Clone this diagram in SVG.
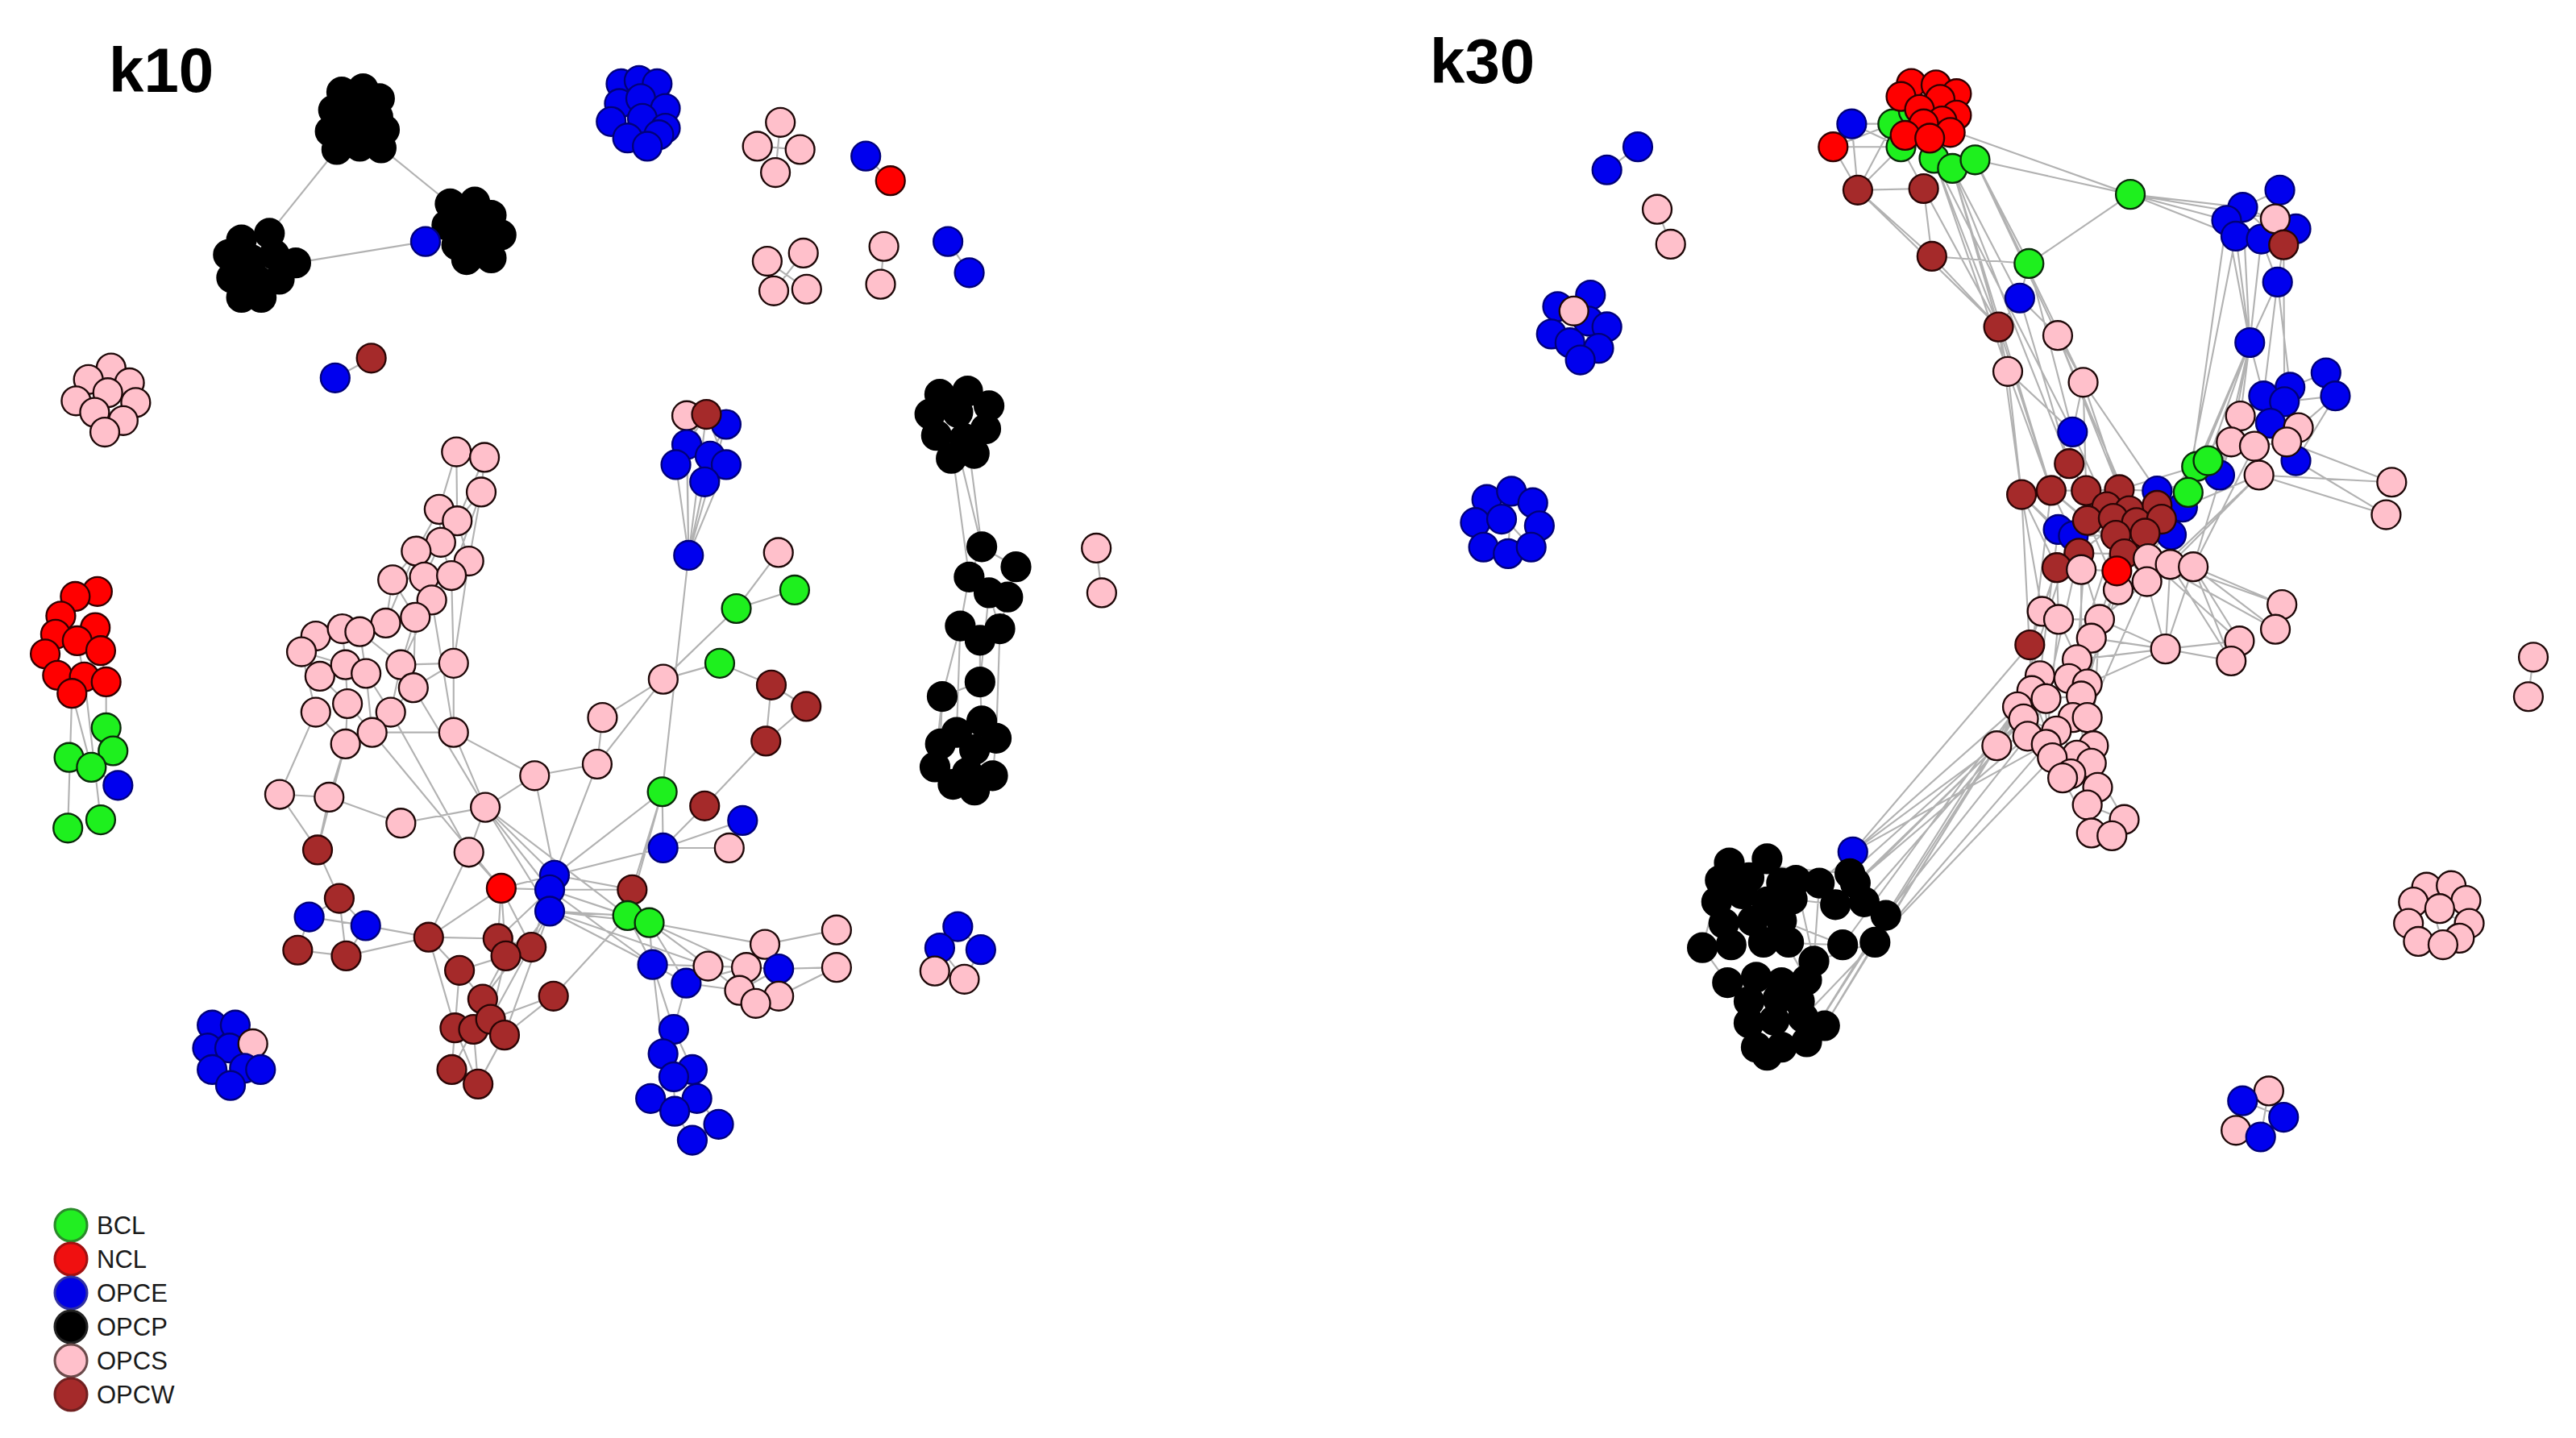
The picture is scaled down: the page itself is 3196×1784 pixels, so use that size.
<svg xmlns="http://www.w3.org/2000/svg" width="3196" height="1784" viewBox="0 0 3196 1784">
<style>
.e{stroke:#b2b2b2;stroke-width:1.05;fill:none}
.n circle{stroke-width:1.15}
.g{fill:#1ef01e;stroke:#0a2a0a}
.r{fill:#ff0000;stroke:#300000}
.b{fill:#0000ee;stroke:#00007a}
.k{fill:#000;stroke:#000}
.p{fill:#ffc0cb;stroke:#1e0808}
.w{fill:#a52a2a;stroke:#2a0505}
.t{font-family:"Liberation Sans",Arial,sans-serif;font-weight:bold;fill:#000}
.lg{font-family:"Liberation Sans",Arial,sans-serif;font-size:31px;fill:#1a1a1a}
.lc circle{stroke-width:3}
</style>
<rect width="3196" height="1784" fill="#fff"/>
<text class="t" x="135" y="114" font-size="78">k10</text>
<text class="t" x="1774" y="103" font-size="78">k30</text>
<g transform="scale(2.0383)">
<g id="connectors">
<path class="e" d="M205,91L164,142M232,90L274,124M180,160L259,147M259,147L272,137M204,230L226,218M527,95L542,110M475,74.5L472,105M461,89L487,91M467,159L491,176M489,154L471,177M538,150L536,173M577,147L590,166M667.3,333.6L670.6,360.8M583,564L572,577M583,564L597,578M572,577L569,591M597,578L587,596M572,577L587,596M53.8,231L82.6,245M67.6,224L63.8,263M46.3,244L75,256
M59.3,360L45.8,363M45.8,363L37,375M37,375L47,390M58,382L47,390M58,382L61.3,396M33.8,386L27.5,398M27.5,398L35,411M47,390L51.3,412M35,411L43.8,422M51.3,412L64.6,415M61.3,396L64.6,415M43.8,422L51.3,412M43.8,422L41.3,504M51.3,412L61.3,499M64.6,415L64.6,443M43.8,422L55.6,467M64.6,443L68.8,457M42,461L55.6,467M55.6,467L71.8,478M68.8,457L55.6,467
M584.5,279L597.6,333M590,275L597.6,333M580,278L589.9,351M597.6,333L589.9,351M597.6,333L618.4,345M589.9,351L602,361M602,361L613.4,363M618.4,345L613.4,363M589.9,351L584.5,381M602,361L608.6,383M613.4,363L608.6,383M584.5,381L596.5,390M608.6,383L596.5,390M584.5,381L573.5,424M596.5,390L596.5,415M608.6,383L606.4,449M596.5,415L573.5,424M573.5,424L572.4,453M596.5,415L597.6,439M584.5,381L582.3,446M573.5,424L569.1,467M606.4,449L604.2,472M602,361L596.5,415
M277.8,275L294.9,278.4M277.8,275L267.3,310M277.8,275L278.3,317M294.9,278.4L292.9,299.5M294.9,278.4L278.3,317M292.9,299.5L278.3,317M292.9,299.5L285.4,341.5M292.9,299.5L274.8,350.3M267.3,310L278.3,317M267.3,310L268.3,330.1M267.3,310L253.3,335.4M278.3,317L268.3,330.1M278.3,317L285.4,341.5M268.3,330.1L253.3,335.4M268.3,330.1L258.3,351.2M268.3,330.1L274.8,350.3M253.3,335.4L239,352.9M253.3,335.4L258.3,351.2M285.4,341.5L274.8,350.3M285.4,341.5L276.1,403.7M239,352.9L258.3,351.2M239,352.9L234.8,379.2M239,352.9L252.8,375.7M258.3,351.2L274.8,350.3M258.3,351.2L262.8,365.2M274.8,350.3L262.8,365.2M262.8,365.2L252.8,375.7M262.8,365.2L244,404.6M234.8,379.2L252.8,375.7M234.8,379.2L219,384.5M234.8,379.2L208.3,382.7M252.8,375.7L244,404.6M252.8,375.7L251.6,418.6M192.2,387.1L208.3,382.7M192.2,387.1L183.5,396.7M208.3,382.7L219,384.5M208.3,382.7L210.3,404.6M219,384.5L222.8,409.9M183.5,396.7L194.7,411.6M183.5,396.7L210.3,404.6M183.5,396.7L192.2,433.5M244,404.6L276.1,403.7M244,404.6L251.6,418.6M244,404.6L237.8,433.5M276.1,403.7L251.6,418.6M276.1,403.7L276.1,445.8M194.7,411.6L210.3,404.6M194.7,411.6L211.5,428.3M210.3,404.6L222.8,409.9M210.3,404.6L211.5,428.3M222.8,409.9L237.8,433.5M222.8,409.9L226.5,445.8M251.6,418.6L237.8,433.5M211.5,428.3L226.5,445.8M211.5,428.3L210.3,452.8M192.2,433.5L210.3,452.8M192.2,433.5L170.2,483.5M237.8,433.5L226.5,445.8M226.5,445.8L276.1,445.8M226.5,445.8L210.3,452.8M210.3,452.8L200.3,485.2M276.1,445.8L295.4,491.4M276.1,445.8L325.4,472.1M274.8,350.3L276.1,403.7M253.3,335.4L234.8,379.2M219,384.5L244,404.6M251.6,418.6L295.4,491.4M237.8,433.5L285.4,518.7M262.8,365.2L276.1,445.8M226.5,445.8L305.1,540.6
M170.2,483.5L200.3,485.2M170.2,483.5L193.3,517.3M200.3,485.2L193.3,517.3M200.3,485.2L244,501M244,501L295.4,491.4M295.4,491.4L325.4,472.1M295.4,491.4L285.4,518.7M325.4,472.1L363.5,465.1M363.5,465.1L366.7,436.7M366.7,436.7L403.7,413.4M363.5,465.1L403.7,413.4M325.4,472.1L337.5,532.7M363.5,465.1L337.5,532.7M295.4,491.4L337.5,532.7M295.4,491.4L334.6,541.5M295.4,491.4L334.6,554.6M295.4,491.4L382,557.3M285.4,518.7L260.9,570.4M285.4,518.7L305.1,540.6M210.3,452.8L193.3,517.3M193.3,517.3L206.5,546.8M206.5,546.8L188.2,558.1M206.5,546.8L222.6,563.4M206.5,546.8L210.7,581.8M188.2,558.1L222.6,563.4M188.2,558.1L181.2,578.3M181.2,578.3L210.7,581.8M222.6,563.4L210.7,581.8M210.7,581.8L260.9,570.4M222.6,563.4L260.9,570.4M260.9,570.4L305.1,540.6M260.9,570.4L279.7,590.6M260.9,570.4L303.1,571.3M260.9,570.4L276.9,625.6M305.1,540.6L303.1,571.3M305.1,540.6L323.4,576.5M305.1,540.6L337.5,532.7M305.1,540.6L334.6,541.5M305.1,540.6L307.9,581.8M303.1,571.3L323.4,576.5M303.1,571.3L307.9,581.8M323.4,576.5L307.9,581.8M307.9,581.8L279.7,590.6M307.9,581.8L293.8,608.1M307.9,581.8L298.6,620.4M279.7,590.6L276.9,625.6M279.7,590.6L293.8,608.1M293.8,608.1L288.2,626.5M293.8,608.1L298.6,620.4M293.8,608.1L307.1,630M276.9,625.6L288.2,626.5M276.9,625.6L275,651M288.2,626.5L291,659.8M298.6,620.4L307.1,630M307.1,630L291,659.8M275,651L291,659.8M276.9,625.6L291,659.8M288.2,626.5L275,651M336.9,606.3L307.1,630M336.9,606.3L298.6,620.4M336.9,606.3L382,557.3M323.4,576.5L334.6,541.5M303.1,571.3L334.6,541.5M293.8,608.1L334.6,554.6M298.6,620.4L334.6,554.6M307.1,630L334.6,554.6
M337.5,532.7L334.6,541.5M334.6,541.5L334.6,554.6M337.5,532.7L403.6,516.1M337.5,532.7L403.1,481.9M334.6,541.5L382,557.3M334.6,541.5L395.2,561.6M334.6,554.6L382,557.3M334.6,554.6L395.2,561.6M337.5,532.7L384.8,541.5M334.6,541.5L384.8,541.5M334.6,554.6L397.2,587.1M334.6,541.5L397.2,587.1M334.6,554.6L431,588M384.8,541.5L382,557.3M384.8,541.5L403.1,481.9M403.1,481.9L382,557.3M403.1,481.9L403.6,516.1M382,557.3L395.2,561.6M395.2,561.6L397.2,587.1M395.2,561.6L417.7,598.4M395.2,561.6L431,588M395.2,561.6L465.6,574.8M395.2,561.6L454.3,588.8M382,557.3L397.2,587.1M403.6,516.1L428.9,490.5M403.6,516.1L452,499.4M403.6,516.1L443.9,516.1M428.9,490.5L466.2,451.1M452,499.4L443.9,516.1M403.1,481.9L419.1,338M403.7,413.4L448.2,370.4M403.7,413.4L438.1,403.7M448.2,370.4L483.7,359.1M448.2,370.4L473.8,336.3M438.1,403.7L469.5,416.9M469.5,416.9L490.7,430M469.5,416.9L466.2,451.1M490.7,430L466.2,451.1
M418,253L419.1,338M430,252L419.1,338M442,258L419.1,338M418,270.6L419.1,338M411.4,282.8L419.1,338M432.2,277.6L419.1,338M442,282.8L419.1,338M428.9,293.3L419.1,338M418,253L432,278M430,252L418,271M442,258L432,278M430,252L442,283
M431,588L454.3,588.8M431,588L417.7,598.4M465.6,574.8L509.2,566M465.6,574.8L454.3,588.8M465.6,574.8L474,589.7M509.2,588.8L474,606.3M509.2,588.8L474,589.7M454.3,588.8L450.1,602.8M454.3,588.8L474,589.7M450.1,602.8L460,610.7M460,610.7L474,606.3M474,606.3L474,589.7M450.1,602.8L474,589.7M431,588L450.1,602.8M417.7,598.4L450.1,602.8M397.2,587.1L431,588M417.7,598.4L454.3,588.8
M397.2,587.1L417.7,598.4M397.2,587.1L410.1,626.5M417.7,598.4L410.1,626.5M397.2,587.1L403.6,641.4M410.1,626.5L403.6,641.4M410.1,626.5L421.4,651M403.6,641.4L410.1,655.4M421.4,651L410.1,655.4M410.1,655.4L396,668.6M410.1,655.4L410.7,676.4M421.4,651L424.2,668.6M396,668.6L410.7,676.4M410.7,676.4L424.2,668.6M424.2,668.6L437.4,684.3M410.7,676.4L421.4,694M437.4,684.3L421.4,694M129.1,623.9L148.8,650.2M143.2,623.9L129.1,651M126.3,637.9L158.6,651M139.8,637.9L153.9,635.3M140.3,660.7L139.8,637.9"/>
<path class="e" d="M1127.1,75.4L1152.1,75.4M1127.1,75.4L1157.1,89.4M1115.8,89.4L1152.1,75.4M1115.8,89.4L1157.1,89.4M1115.8,89.4L1130.8,115.7M1127.1,75.4L1130.8,115.7M1157.1,89.4L1130.8,115.7M1152.1,75.4L1130.8,115.7M1130.8,115.7L1170.9,114.8M1157.1,89.4L1170.9,114.8M1170.9,114.8L1175.9,156M1130.8,115.7L1216.5,199M1170.9,114.8L1216.5,199M1175.9,156L1235,160.4M1175.9,156L1216.5,199M1130.8,115.7L1175.9,156
M1188.4,102.5L1229.4,181.4M1188.4,102.5L1216.5,199M1177.2,96.4L1216.5,199M1202.2,97.3L1235,160.4M1202.2,97.3L1252.5,204.2M1188.4,102.5L1259.5,282.2M1177.2,96.4L1222.1,226.1M1202.2,97.3L1268,232.7M1177.2,96.4L1261.5,262.9M1188.4,102.5L1248.5,298.5M1202.2,97.3L1296.7,118.3M1190.9,80.6L1296.7,118.3M1296.7,118.3L1235,160.4M1296.7,118.3L1365.1,126.2M1296.7,118.3L1355.3,134.1M1296.7,118.3L1360.9,143.7M1296.7,118.3L1384.9,133.2
M1387.7,115.7L1365.1,126.2M1387.7,115.7L1384.9,133.2M1365.1,126.2L1397.5,139.3M1355.3,134.1L1376.4,145.5M1384.9,133.2L1360.9,143.7M1390,149L1365.1,126.2M1360.9,143.7L1369.4,208.5M1355.3,134.1L1369.4,208.5M1386.3,171.7L1369.4,208.5M1376.4,145.5L1386.3,171.7M1390,149L1386.3,171.7M1386.3,171.7L1393.9,235.7M1365.1,126.2L1369.4,208.5M1386.3,171.7L1377.8,241M1390,149L1390.5,244.5M1376.4,145.5L1369.4,208.5
M1369.4,208.5L1337,283.9M1369.4,208.5L1344,280.4M1369.4,208.5L1363.7,253.2M1369.4,208.5L1377.8,241M1369.4,208.5L1358.1,269M1369.4,208.5L1331.9,299.7M1369.4,208.5L1351.1,289.2M1355.3,134.1L1331.9,299.7M1360.9,143.7L1328.5,308.7
M1415.8,226.9L1421.5,241M1415.8,226.9L1393.9,235.7M1421.5,241L1390.5,244.5M1393.9,235.7L1377.8,241M1377.8,241L1363.7,253.2M1390.5,244.5L1382,257.6M1363.7,253.2L1382,257.6M1382,257.6L1399,260.3M1382,257.6L1372.2,271.6M1358.1,269L1372.2,271.6M1372.2,271.6L1391.9,269M1391.9,269L1397.5,280.4M1372.2,271.6L1375,289.2M1358.1,269L1351.1,289.2M1351.1,289.2L1337,283.9M1421.5,241L1399,260.3M1421.5,241L1397.5,280.4M1375,289.2L1455.8,293.5M1375,289.2L1452.4,313.3M1391.9,269L1455.8,293.5M1397.5,280.4L1452.4,313.3
M1351.1,289.2L1313,298.8M1344,280.4L1313,307.6M1363.7,253.2L1331.9,299.7M1358.1,269L1315.7,316M1372.2,271.6L1335,345M1375,289.2L1321,343.5M1358.1,269L1335,345M1337,283.9L1290,298M1344,280.4L1321.7,325.5M1375,289.2L1328.5,308.7M1363.7,253.2L1313,307.6M1375,289.2L1306.8,354
M1229.4,181.4L1235,160.4M1229.4,181.4L1216.5,199M1229.4,181.4L1252.5,204.2M1216.5,199L1222.1,226.1M1252.5,204.2L1268,232.7M1222.1,226.1L1261.5,262.9M1268,232.7L1261.5,262.9M1261.5,262.9L1259.5,282.2M1222.1,226.1L1230.5,301M1268,232.7L1290,298M1268,232.7L1269.8,298.6M1252.5,204.2L1290,298M1216.5,199L1248.5,298.5M1222.1,226.1L1248.5,298.5M1259.5,282.2L1248.5,298.5M1259.5,282.2L1269.8,298.6M1261.5,262.9L1282.3,308.4M1252.5,204.2L1300.4,318.1M1229.4,181.4L1259.5,282.2M1235,160.4L1261.5,262.9M1216.5,199L1230.5,301M1268,232.7L1313,298.8
M1230.5,301L1248.5,298.5M1248.5,298.5L1269.8,298.6M1269.8,298.6L1290,298M1290,298L1313,298.8M1230.5,301L1252.8,322.3M1230.5,301L1252,345.5M1248.5,298.5L1270.6,316.8M1248.5,298.5L1262,326.1M1269.8,298.6L1282.3,308.4M1282.3,308.4L1296,310.8M1296,310.8L1313,307.6M1313,307.6L1328.5,308.7M1270.6,316.8L1286.3,315.5M1286.3,315.5L1300.4,318.1M1300.4,318.1L1315.7,316M1252.8,322.3L1265.4,336.7M1262,326.1L1287.9,325.8M1287.9,325.8L1305.7,324.5M1305.7,324.5L1321.7,325.5M1265.4,336.7L1293.1,337.1M1252,345.5L1266.8,346.7M1266.8,346.7L1288.5,347.5M1288.5,347.5L1307.5,340M1307.5,340L1321,343.5M1321,343.5L1335,345M1306.8,354L1289.3,359M1293.1,337.1L1306.8,354M1230.5,301L1265.4,336.7M1248.5,298.5L1293.1,337.1M1290,298L1252,345.5M1313,298.8L1265.4,336.7M1282.3,308.4L1288.5,347.5M1270.6,316.8L1289.3,359M1252.8,322.3L1305.7,324.5M1331.9,299.7L1296,310.8M1331.9,299.7L1321.7,325.5M1328.5,308.7L1307.5,340
M1230.5,301L1243,372.1M1252,345.5L1253,377M1265.4,336.7L1278,377M1288.5,347.5L1273,388.4M1289.3,359L1278,377M1306.8,354L1278,377M1252,345.5L1235.5,392.5M1270.6,316.8L1264.3,401.5M1287.9,325.8L1259.3,413M1293.1,337.1L1270.5,416.3M1252.8,322.3L1241.7,411.3M1230.5,301L1236.7,420.3M1265.4,336.7L1245.4,425.2M1266.8,346.7L1266.8,423.6M1262,326.1L1228,430.2M1248.5,298.5L1231.7,437.5M1289.3,359L1261.8,436.7M1306.8,354L1270.5,436.7M1252,345.5L1243,372.1
M1306.8,354L1318.1,395M1321,343.5L1318.1,395M1335,345L1363.1,390.1M1335,345L1358.1,402.3M1318.1,395L1363.1,390.1M1318.1,395L1358.1,402.3M1335,345L1318.1,395M1307.5,340L1363.1,390.1M1321,343.5L1358.1,402.3M1318.1,395L1278,377M1318.1,395L1273,388.4M1318.1,395L1264.3,401.5M1335,345L1389,368M1335,345L1385,383M1321,343.5L1389,368M1307.5,340L1385,383M1363.1,390.1L1358.1,402.3M1389,368L1385,383M1318.1,395L1270.5,416.3
M1243,372.1L1253,377M1253,377L1278,377M1278,377L1273,388.4M1243,372.1L1235.5,392.5M1253,377L1264.3,401.5M1273,388.4L1264.3,401.5M1235.5,392.5L1241.7,411.3M1264.3,401.5L1259.3,413M1259.3,413L1270.5,416.3M1241.7,411.3L1259.3,413M1241.7,411.3L1236.7,420.3M1236.7,420.3L1245.4,425.2M1245.4,425.2L1266.8,423.6M1236.7,420.3L1228,430.2M1228,430.2L1231.7,437.5M1231.7,437.5L1251.7,444.9M1261.8,436.7L1270.5,436.7M1251.7,444.9L1261.8,436.7M1234.2,448.1L1245.5,453M1245.5,453L1249.2,461.2M1251.7,444.9L1264.2,459.6M1264.2,459.6L1273,464.5M1274.3,453.9L1273,464.5M1249.2,461.2L1260.5,471M1260.5,471L1255.5,473.5M1260.5,471L1276.8,479.2M1276.8,479.2L1270.5,489.9M1270.5,489.9L1273,507M1270.5,489.9L1293,498.8M1293,498.8L1285.5,508.7M1273,507L1285.5,508.7M1245.4,425.2L1234.2,448.1M1259.3,413L1261.8,436.7M1266.8,423.6L1274.3,453.9M1241.7,411.3L1249.2,461.2M1270.5,416.3L1276.8,479.2M1236.7,420.3L1255.5,473.5M1264.3,401.5L1270.5,489.9M1253,377L1245.5,453M1278,377L1273,464.5M1231.7,437.5L1215.4,453.9M1228,430.2L1215.4,453.9M1215.4,453.9L1234.2,448.1M1273,464.5L1293,498.8M1255.5,473.5L1273,507
M1215.4,453.9L1127.8,518.5M1215.4,453.9L1129.3,537.5M1231.7,437.5L1134.7,548.9M1228,430.2L1127.8,518.5M1234.2,448.1L1147.9,557.1M1236.7,420.3L1141.3,573.5M1241.7,411.3L1110.6,624.3M1245.5,453L1127.8,518.5M1228,430.2L1121.6,575.1M1249.2,461.2L1141.3,573.5M1215.4,453.9L1099.7,634.1M1215.4,453.9L1117.2,550.6M1235.5,392.5L1127.8,518.5M1231.7,437.5L1126,531.7M1234.2,448.1L1129.3,537.5M1245.5,453L1141.3,573.5M1228,430.2L1147.9,557.1
M1052.6,525.2L1126,531.7M1036.2,576.8L1051.5,598.1M1104.1,585L1141.3,573.5M1110.6,624.3L1141.3,573.5M1099.7,634.1L1147.9,557.1M1084.4,560.4L1121.6,575.1M1093.1,535.8L1104.1,585M1107.4,537.5L1104.1,585M1073.4,573.5L1121.6,575.1M1064.6,534.2L1099.7,596.4M1047.1,535.8L1036.2,576.8M1127.8,518.5L1107.4,537.5M1097.5,619.3L1141.3,573.5M1090.9,547.3L1117.2,550.6
M996.9,89.4L978.1,103.4M1008.7,127.4L1016.9,148.6M1542,400L1539,424M968.1,179.6L961.9,219.1M948.1,186.6L973.1,212M905,304L932,333M920,299L918,337M1477,540L1487,575M1469,549L1503,562M1381,664L1376,692M1365,670L1390,680"/>
</g>

<g id="k10-opcp-a" class="n k"><circle cx="208" cy="56" r="8.8"/><circle cx="221" cy="54" r="8.8"/><circle cx="231" cy="60" r="8.8"/><circle cx="203" cy="67" r="8.8"/><circle cx="216" cy="65" r="8.8"/><circle cx="230" cy="71" r="8.8"/><circle cx="212" cy="72" r="8.8"/><circle cx="201" cy="80" r="8.8"/><circle cx="213" cy="78" r="8.8"/><circle cx="227" cy="82" r="8.8"/><circle cx="234" cy="79" r="8.8"/><circle cx="205" cy="91" r="8.8"/><circle cx="219" cy="89" r="8.8"/><circle cx="232" cy="90" r="8.8"/></g>
<g id="k10-opcp-b" class="n k"><circle cx="147" cy="146" r="8.8"/><circle cx="164" cy="142" r="8.8"/><circle cx="139" cy="155" r="8.8"/><circle cx="153" cy="158" r="8.8"/><circle cx="167" cy="155" r="8.8"/><circle cx="180" cy="160" r="8.8"/><circle cx="150" cy="164" r="8.8"/><circle cx="141" cy="169" r="8.8"/><circle cx="156" cy="170" r="8.8"/><circle cx="170" cy="170" r="8.8"/><circle cx="147" cy="181" r="8.8"/><circle cx="159" cy="181" r="8.8"/></g>
<g id="k10-opcp-c" class="n k"><circle cx="274" cy="124" r="8.8"/><circle cx="289" cy="123" r="8.8"/><circle cx="299" cy="131" r="8.8"/><circle cx="272" cy="137" r="8.8"/><circle cx="286" cy="136" r="8.8"/><circle cx="305" cy="143" r="8.8"/><circle cx="278" cy="149" r="8.8"/><circle cx="294" cy="148" r="8.8"/><circle cx="284" cy="158" r="8.8"/><circle cx="299" cy="157" r="8.8"/></g>
<g id="k10-opce-c" class="n b"><circle cx="259" cy="147" r="8.8"/></g>
<g id="k10-opce-top" class="n b"><circle cx="378" cy="51" r="8.8"/><circle cx="389" cy="49" r="8.8"/><circle cx="400" cy="51" r="8.8"/><circle cx="377" cy="63" r="8.8"/><circle cx="390" cy="60" r="8.8"/><circle cx="405" cy="66" r="8.8"/><circle cx="372" cy="74" r="8.8"/><circle cx="391" cy="72" r="8.8"/><circle cx="405" cy="78" r="8.8"/><circle cx="382" cy="84" r="8.8"/><circle cx="401" cy="82" r="8.8"/><circle cx="394" cy="89" r="8.8"/></g>
<g id="k10-opcs-4a" class="n p"><circle cx="475" cy="74.5" r="8.8"/><circle cx="461" cy="89" r="8.8"/><circle cx="487" cy="91" r="8.8"/><circle cx="472" cy="105" r="8.8"/></g>
<g id="k10-opce-ncl" class="n"><circle class="b" cx="527" cy="95" r="8.8"/><circle class="r" cx="542" cy="110" r="8.8"/></g>
<g id="k10-opcs-4b" class="n p"><circle cx="467" cy="159" r="8.8"/><circle cx="489" cy="154" r="8.8"/><circle cx="471" cy="177" r="8.8"/><circle cx="491" cy="176" r="8.8"/></g>
<g id="k10-opcs-2a" class="n p"><circle cx="538" cy="150" r="8.8"/><circle cx="536" cy="173" r="8.8"/></g>
<g id="k10-opce-2" class="n b"><circle cx="577" cy="147" r="8.8"/><circle cx="590" cy="166" r="8.8"/></g>
<g id="k10-opce-opcw" class="n"><circle class="b" cx="204" cy="230" r="8.8"/><circle class="w" cx="226" cy="218" r="8.8"/></g>
<g id="k10-opcs-left" class="n p"><circle cx="67.6" cy="224" r="8.8"/><circle cx="53.8" cy="231" r="8.8"/><circle cx="78.8" cy="233" r="8.8"/><circle cx="65.6" cy="239" r="8.8"/><circle cx="46.3" cy="244" r="8.8"/><circle cx="82.6" cy="245" r="8.8"/><circle cx="57.6" cy="251" r="8.8"/><circle cx="75" cy="256" r="8.8"/><circle cx="63.8" cy="263" r="8.8"/></g>
<g id="k10-ncl-bcl" class="n">
<g class="r"><circle cx="59.3" cy="360" r="8.8"/><circle cx="45.8" cy="363" r="8.8"/><circle cx="37" cy="375" r="8.8"/><circle cx="58" cy="382" r="8.8"/><circle cx="33.8" cy="386" r="8.8"/><circle cx="47" cy="390" r="8.8"/><circle cx="61.3" cy="396" r="8.8"/><circle cx="27.5" cy="398" r="8.8"/><circle cx="35" cy="411" r="8.8"/><circle cx="51.3" cy="412" r="8.8"/><circle cx="64.6" cy="415" r="8.8"/><circle cx="43.8" cy="422" r="8.8"/></g>
<g class="g"><circle cx="64.6" cy="443" r="8.8"/><circle cx="42" cy="461" r="8.8"/><circle cx="68.8" cy="457" r="8.8"/><circle cx="55.6" cy="467" r="8.8"/><circle cx="61.3" cy="499" r="8.8"/><circle cx="41.3" cy="504" r="8.8"/></g>
<circle class="b" cx="71.8" cy="478" r="8.8"/></g>
<g id="k10-opcp-right" class="n k"><circle cx="572" cy="240" r="8.8"/><circle cx="589" cy="238" r="8.8"/><circle cx="602" cy="247" r="8.8"/><circle cx="566" cy="252" r="8.8"/><circle cx="583" cy="251" r="8.8"/><circle cx="600" cy="261" r="8.8"/><circle cx="570" cy="265" r="8.8"/><circle cx="587" cy="267" r="8.8"/><circle cx="579" cy="279" r="8.8"/><circle cx="593" cy="276" r="8.8"/>
<circle cx="597.6" cy="332.8" r="8.8"/><circle cx="618.4" cy="345" r="8.8"/><circle cx="589.9" cy="351.2" r="8.8"/><circle cx="602" cy="360.8" r="8.8"/><circle cx="613.4" cy="363.4" r="8.8"/><circle cx="584.5" cy="381" r="8.8"/><circle cx="608.6" cy="382.7" r="8.8"/><circle cx="596.5" cy="389.7" r="8.8"/><circle cx="596.5" cy="415.1" r="8.8"/><circle cx="573.5" cy="423.9" r="8.8"/><circle cx="597.6" cy="438.8" r="8.8"/><circle cx="582.3" cy="445.8" r="8.8"/><circle cx="606.4" cy="449.3" r="8.8"/><circle cx="572.4" cy="452.8" r="8.8"/><circle cx="593.2" cy="456.3" r="8.8"/><circle cx="569.1" cy="466.8" r="8.8"/><circle cx="588.8" cy="470.3" r="8.8"/><circle cx="604.2" cy="472.1" r="8.8"/><circle cx="580.1" cy="477.4" r="8.8"/><circle cx="593.2" cy="480.9" r="8.8"/></g>
<g id="k10-opcs-2b" class="n p"><circle cx="667.3" cy="333.6" r="8.8"/><circle cx="670.6" cy="360.8" r="8.8"/></g>
<g id="k10-small" class="n"><circle class="b" cx="583" cy="564" r="8.8"/><circle class="b" cx="572" cy="577" r="8.8"/><circle class="b" cx="597" cy="578" r="8.8"/><circle class="p" cx="569" cy="591" r="8.8"/><circle class="p" cx="587" cy="596" r="8.8"/></g>
<g id="k10-opce-ll" class="n"><g class="b"><circle cx="129.1" cy="623.9" r="8.8"/><circle cx="143.2" cy="623.9" r="8.8"/><circle cx="126.3" cy="637.9" r="8.8"/><circle cx="139.8" cy="637.9" r="8.8"/></g><circle class="p" cx="153.9" cy="635.3" r="8.8"/><g class="b"><circle cx="129.1" cy="651" r="8.8"/><circle cx="148.8" cy="650.2" r="8.8"/><circle cx="158.6" cy="651" r="8.8"/><circle cx="140.3" cy="660.7" r="8.8"/></g></g>
<g id="k10-main-top" class="n"><circle class="p" cx="418" cy="253" r="8.8"/><circle class="b" cx="442" cy="258.3" r="8.8"/><circle class="w" cx="430" cy="252.2" r="8.8"/><g class="b"><circle cx="418" cy="270.6" r="8.8"/><circle cx="432.2" cy="277.6" r="8.8"/><circle cx="411.4" cy="282.8" r="8.8"/><circle cx="442" cy="282.8" r="8.8"/><circle cx="428.9" cy="293.3" r="8.8"/><circle cx="419.1" cy="338" r="8.8"/></g></g>
<g id="k10-main-opcs" class="n p"><circle cx="277.8" cy="275" r="8.8"/><circle cx="294.9" cy="278.4" r="8.8"/><circle cx="292.9" cy="299.5" r="8.8"/><circle cx="267.3" cy="310" r="8.8"/><circle cx="278.3" cy="317" r="8.8"/><circle cx="268.3" cy="330.1" r="8.8"/><circle cx="253.3" cy="335.4" r="8.8"/><circle cx="285.4" cy="341.5" r="8.8"/><circle cx="239" cy="352.9" r="8.8"/><circle cx="258.3" cy="351.2" r="8.8"/><circle cx="274.8" cy="350.3" r="8.8"/><circle cx="262.8" cy="365.2" r="8.8"/><circle cx="234.8" cy="379.2" r="8.8"/><circle cx="252.8" cy="375.7" r="8.8"/><circle cx="192.2" cy="387.1" r="8.8"/><circle cx="208.3" cy="382.7" r="8.8"/><circle cx="219" cy="384.5" r="8.8"/><circle cx="183.5" cy="396.7" r="8.8"/><circle cx="244" cy="404.6" r="8.8"/><circle cx="276.1" cy="403.7" r="8.8"/><circle cx="194.7" cy="411.6" r="8.8"/><circle cx="210.3" cy="404.6" r="8.8"/><circle cx="222.8" cy="409.9" r="8.8"/><circle cx="251.6" cy="418.6" r="8.8"/><circle cx="211.5" cy="428.3" r="8.8"/><circle cx="192.2" cy="433.5" r="8.8"/><circle cx="237.8" cy="433.5" r="8.8"/><circle cx="226.5" cy="445.8" r="8.8"/><circle cx="210.3" cy="452.8" r="8.8"/><circle cx="276.1" cy="445.8" r="8.8"/><circle cx="366.7" cy="436.7" r="8.8"/><circle cx="363.5" cy="465.1" r="8.8"/><circle cx="325.4" cy="472.1" r="8.8"/><circle cx="170.2" cy="483.5" r="8.8"/><circle cx="200.3" cy="485.2" r="8.8"/><circle cx="244" cy="501" r="8.8"/><circle cx="295.4" cy="491.4" r="8.8"/><circle cx="285.4" cy="518.7" r="8.8"/><circle cx="403.7" cy="413.4" r="8.8"/><circle cx="473.8" cy="336.3" r="8.8"/><circle cx="443.9" cy="516.1" r="8.8"/></g>
<g id="k10-main-bcl" class="n g"><circle cx="483.7" cy="359.1" r="8.8"/><circle cx="448.2" cy="370.4" r="8.8"/><circle cx="438.1" cy="403.7" r="8.8"/><circle cx="403.1" cy="481.9" r="8.8"/></g>
<g id="k10-main-opcw" class="n w"><circle cx="469.5" cy="416.9" r="8.8"/><circle cx="490.7" cy="430" r="8.8"/><circle cx="466.2" cy="451.1" r="8.8"/><circle cx="428.9" cy="490.5" r="8.8"/><circle cx="193.3" cy="517.3" r="8.8"/><circle cx="384.8" cy="541.5" r="8.8"/><circle cx="206.5" cy="546.8" r="8.8"/><circle cx="260.9" cy="570.4" r="8.8"/><circle cx="303.1" cy="571.3" r="8.8"/><circle cx="323.4" cy="576.5" r="8.8"/><circle cx="307.9" cy="581.8" r="8.8"/><circle cx="181.2" cy="578.3" r="8.8"/><circle cx="210.7" cy="581.8" r="8.8"/><circle cx="279.7" cy="590.6" r="8.8"/><circle cx="293.8" cy="608.1" r="8.8"/><circle cx="336.9" cy="606.3" r="8.8"/><circle cx="276.9" cy="625.6" r="8.8"/><circle cx="288.2" cy="626.5" r="8.8"/><circle cx="298.6" cy="620.4" r="8.8"/><circle cx="307.1" cy="630" r="8.8"/><circle cx="275" cy="651" r="8.8"/><circle cx="291" cy="659.8" r="8.8"/></g>
<g id="k10-main-opce" class="n b"><circle cx="452" cy="499.4" r="8.8"/><circle cx="403.6" cy="516.1" r="8.8"/><circle cx="337.5" cy="532.7" r="8.8"/><circle cx="334.6" cy="541.5" r="8.8"/><circle cx="334.6" cy="554.6" r="8.8"/><circle cx="188.2" cy="558.1" r="8.8"/><circle cx="222.6" cy="563.4" r="8.8"/><circle cx="397.2" cy="587.1" r="8.8"/><circle cx="417.7" cy="598.4" r="8.8"/><circle cx="410.1" cy="626.5" r="8.8"/><circle cx="403.6" cy="641.4" r="8.8"/><circle cx="421.4" cy="651" r="8.8"/><circle cx="410.1" cy="655.4" r="8.8"/><circle cx="396" cy="668.6" r="8.8"/><circle cx="424.2" cy="668.6" r="8.8"/><circle cx="410.7" cy="676.4" r="8.8"/><circle cx="437.4" cy="684.3" r="8.8"/><circle cx="421.4" cy="694" r="8.8"/></g>
<g id="k10-main-ncl" class="n r"><circle cx="305.1" cy="540.6" r="8.8"/></g>
<g id="k10-main-bcl2" class="n g"><circle cx="382" cy="557.3" r="8.8"/><circle cx="395.2" cy="561.6" r="8.8"/></g>
<g id="k10-main-right" class="n"><g class="p"><circle cx="431" cy="588" r="8.8"/><circle cx="465.6" cy="574.8" r="8.8"/><circle cx="509.2" cy="566" r="8.8"/><circle cx="509.2" cy="588.8" r="8.8"/><circle cx="454.3" cy="588.8" r="8.8"/></g><circle class="b" cx="474" cy="589.7" r="8.8"/><g class="p"><circle cx="450.1" cy="602.8" r="8.8"/><circle cx="474" cy="606.3" r="8.8"/><circle cx="460" cy="610.7" r="8.8"/></g></g>

<g id="k30-opce-2" class="n b"><circle cx="996.9" cy="89.4" r="8.8"/><circle cx="978.1" cy="103.4" r="8.8"/></g>
<g id="k30-opcs-2" class="n p"><circle cx="1008.7" cy="127.4" r="8.8"/><circle cx="1016.9" cy="148.6" r="8.8"/></g>
<g id="k30-opce-a" class="n"><g class="b"><circle cx="968.1" cy="179.6" r="8.8"/><circle cx="948.1" cy="186.6" r="8.8"/><circle cx="966.9" cy="195.4" r="8.8"/><circle cx="978.1" cy="198.9" r="8.8"/><circle cx="944.3" cy="203.3" r="8.8"/><circle cx="955.6" cy="208.6" r="8.8"/><circle cx="973.1" cy="212" r="8.8"/><circle cx="961.9" cy="219.1" r="8.8"/></g><circle class="p" cx="958" cy="189.3" r="8.8"/></g>
<g id="k30-opce-b" class="n b"><circle cx="905" cy="304" r="8.8"/><circle cx="920" cy="299" r="8.8"/><circle cx="933" cy="306" r="8.8"/><circle cx="898" cy="318" r="8.8"/><circle cx="914" cy="316" r="8.8"/><circle cx="937" cy="320" r="8.8"/><circle cx="903" cy="333" r="8.8"/><circle cx="918" cy="337" r="8.8"/><circle cx="932" cy="333" r="8.8"/></g>
<g id="k30-top" class="n"><g class="g"><circle cx="1152.1" cy="75.4" r="8.8"/><circle cx="1164.6" cy="67.5" r="8.8"/><circle cx="1157.1" cy="89.4" r="8.8"/><circle cx="1177.2" cy="96.4" r="8.8"/><circle cx="1188.4" cy="102.5" r="8.8"/><circle cx="1202.2" cy="97.3" r="8.8"/></g>
<g class="r"><circle cx="1163.4" cy="50.8" r="8.8"/><circle cx="1178.4" cy="51.7" r="8.8"/><circle cx="1190.9" cy="57" r="8.8"/><circle cx="1157.1" cy="58.7" r="8.8"/><circle cx="1180.9" cy="60.5" r="8.8"/><circle cx="1168.4" cy="66.6" r="8.8"/><circle cx="1190.9" cy="70.1" r="8.8"/><circle cx="1182.1" cy="73.6" r="8.8"/><circle cx="1170.9" cy="75.4" r="8.8"/><circle cx="1187.1" cy="80.6" r="8.8"/><circle cx="1159.6" cy="82.4" r="8.8"/><circle cx="1174.6" cy="84.1" r="8.8"/><circle cx="1115.8" cy="89.4" r="8.8"/></g>
<circle class="b" cx="1127.1" cy="75.4" r="8.8"/><g class="w"><circle cx="1130.8" cy="115.7" r="8.8"/><circle cx="1170.9" cy="114.8" r="8.8"/><circle cx="1175.9" cy="156" r="8.8"/></g></g>
<g id="k30-mid" class="n"><circle class="g" cx="1296.7" cy="118.3" r="8.8"/><circle class="g" cx="1235" cy="160.4" r="8.8"/><circle class="b" cx="1229.4" cy="181.4" r="8.8"/><circle class="w" cx="1216.5" cy="199" r="8.8"/><circle class="p" cx="1252.5" cy="204.2" r="8.8"/><circle class="p" cx="1222.1" cy="226.1" r="8.8"/><circle class="p" cx="1268" cy="232.7" r="8.8"/><circle class="b" cx="1261.5" cy="262.9" r="8.8"/><circle class="w" cx="1259.5" cy="282.2" r="8.8"/></g>
<g id="k30-rb" class="n"><g class="b"><circle cx="1387.7" cy="115.7" r="8.8"/><circle cx="1365.1" cy="126.2" r="8.8"/><circle cx="1355.3" cy="134.1" r="8.8"/><circle cx="1397.5" cy="139.3" r="8.8"/><circle cx="1360.9" cy="143.7" r="8.8"/><circle cx="1376.4" cy="145.5" r="8.8"/></g><circle class="p" cx="1384.9" cy="133.2" r="8.8"/><circle class="w" cx="1390" cy="149" r="8.8"/><circle class="b" cx="1386.3" cy="171.7" r="8.8"/><circle class="b" cx="1369.4" cy="208.5" r="8.8"/></g>
<g id="k30-rl" class="n"><g class="b"><circle cx="1415.8" cy="226.9" r="8.8"/><circle cx="1421.5" cy="241" r="8.8"/><circle cx="1393.9" cy="235.7" r="8.8"/><circle cx="1377.8" cy="241" r="8.8"/><circle cx="1390.5" cy="244.5" r="8.8"/><circle cx="1382" cy="257.6" r="8.8"/><circle cx="1397.5" cy="280.4" r="8.8"/></g><g class="p"><circle cx="1363.7" cy="253.2" r="8.8"/><circle cx="1399" cy="260.3" r="8.8"/><circle cx="1358.1" cy="269" r="8.8"/><circle cx="1372.2" cy="271.6" r="8.8"/><circle cx="1391.9" cy="269" r="8.8"/><circle cx="1375" cy="289.2" r="8.8"/></g><circle class="b" cx="1351.1" cy="289.2" r="8.8"/><circle class="g" cx="1337" cy="283.9" r="8.8"/><circle class="g" cx="1344" cy="280.4" r="8.8"/><circle class="b" cx="1328.5" cy="308.7" r="8.8"/><circle class="g" cx="1331.9" cy="299.7" r="8.8"/></g>
<g id="k30-opcs-far" class="n p"><circle cx="1455.8" cy="293.5" r="8.8"/><circle cx="1452.4" cy="313.3" r="8.8"/></g>
<g id="k30-core" class="n"><g class="b"><circle cx="1313" cy="298.8" r="8.8"/></g><g class="w"><circle cx="1230.5" cy="301" r="8.8"/><circle cx="1248.5" cy="298.5" r="8.8"/><circle cx="1269.8" cy="298.6" r="8.8"/><circle cx="1290" cy="298" r="8.8"/><circle cx="1282.3" cy="308.4" r="8.8"/><circle cx="1296" cy="310.8" r="8.8"/><circle cx="1313" cy="307.6" r="8.8"/></g><g class="b"><circle cx="1252.8" cy="322.3" r="8.8"/><circle cx="1262" cy="326.1" r="8.8"/><circle cx="1321.7" cy="325.5" r="8.8"/></g><g class="w"><circle cx="1270.6" cy="316.8" r="8.8"/><circle cx="1286.3" cy="315.5" r="8.8"/><circle cx="1300.4" cy="318.1" r="8.8"/><circle cx="1315.7" cy="316" r="8.8"/><circle cx="1287.9" cy="325.8" r="8.8"/><circle cx="1305.7" cy="324.5" r="8.8"/><circle cx="1265.4" cy="336.7" r="8.8"/><circle cx="1293.1" cy="337.1" r="8.8"/><circle cx="1252" cy="345.5" r="8.8"/></g><g class="p"><circle cx="1266.8" cy="346.7" r="8.8"/><circle cx="1307.5" cy="340" r="8.8"/><circle cx="1321" cy="343.5" r="8.8"/><circle cx="1335" cy="345" r="8.8"/><circle cx="1306.8" cy="354" r="8.8"/><circle cx="1289.3" cy="359" r="8.8"/></g><circle class="r" cx="1288.5" cy="347.5" r="8.8"/></g>
<g id="k30-chain" class="n p"><circle cx="1243" cy="372.1" r="8.8"/><circle cx="1253" cy="377" r="8.8"/><circle cx="1278" cy="377" r="8.8"/><circle cx="1273" cy="388.4" r="8.8"/><circle class="w" cx="1235.5" cy="392.5" r="8.8"/><circle cx="1318.1" cy="395" r="8.8"/><circle cx="1363.1" cy="390.1" r="8.8"/><circle cx="1358.1" cy="402.3" r="8.8"/><circle cx="1389" cy="368" r="8.8"/><circle cx="1385" cy="383" r="8.8"/><circle cx="1264.3" cy="401.5" r="8.8"/><circle cx="1241.7" cy="411.3" r="8.8"/><circle cx="1259.3" cy="413" r="8.8"/><circle cx="1270.5" cy="416.3" r="8.8"/><circle cx="1236.7" cy="420.3" r="8.8"/><circle cx="1245.4" cy="425.2" r="8.8"/><circle cx="1266.8" cy="423.6" r="8.8"/><circle cx="1228" cy="430.2" r="8.8"/><circle cx="1231.7" cy="437.5" r="8.8"/><circle cx="1261.8" cy="436.7" r="8.8"/><circle cx="1270.5" cy="436.7" r="8.8"/><circle cx="1234.2" cy="448.1" r="8.8"/><circle cx="1251.7" cy="444.9" r="8.8"/><circle cx="1245.5" cy="453" r="8.8"/><circle cx="1274.3" cy="453.9" r="8.8"/><circle cx="1264.2" cy="459.6" r="8.8"/><circle cx="1273" cy="464.5" r="8.8"/><circle cx="1249.2" cy="461.2" r="8.8"/><circle cx="1260.5" cy="471" r="8.8"/><circle cx="1276.8" cy="479.2" r="8.8"/><circle cx="1255.5" cy="473.5" r="8.8"/><circle cx="1270.5" cy="489.9" r="8.8"/><circle cx="1293" cy="498.8" r="8.8"/><circle cx="1273" cy="507" r="8.8"/><circle cx="1285.5" cy="508.7" r="8.8"/><circle cx="1215.4" cy="453.9" r="8.8"/></g>
<g id="k30-opcp" class="n"><circle class="b" cx="1127.8" cy="518.5" r="8.8"/><g class="k"><circle cx="1052.6" cy="525.2" r="8.8"/><circle cx="1075.6" cy="522.7" r="8.8"/><circle cx="1047.1" cy="535.8" r="8.8"/><circle cx="1064.6" cy="534.2" r="8.8"/><circle cx="1084.4" cy="537.5" r="8.8"/><circle cx="1093.1" cy="535.8" r="8.8"/><circle cx="1107.4" cy="537.5" r="8.8"/><circle cx="1126" cy="531.7" r="8.8"/><circle cx="1129.3" cy="537.5" r="8.8"/><circle cx="1044.9" cy="548.9" r="8.8"/><circle cx="1060.3" cy="544" r="8.8"/><circle cx="1075.6" cy="548.9" r="8.8"/><circle cx="1090.9" cy="547.3" r="8.8"/><circle cx="1117.2" cy="550.6" r="8.8"/><circle cx="1134.7" cy="548.9" r="8.8"/><circle cx="1147.9" cy="557.1" r="8.8"/><circle cx="1049.3" cy="562" r="8.8"/><circle cx="1066.8" cy="560.4" r="8.8"/><circle cx="1084.4" cy="560.4" r="8.8"/><circle cx="1036.2" cy="576.8" r="8.8"/><circle cx="1053.7" cy="575.1" r="8.8"/><circle cx="1073.4" cy="573.5" r="8.8"/><circle cx="1088.7" cy="573.5" r="8.8"/><circle cx="1121.6" cy="575.1" r="8.8"/><circle cx="1141.3" cy="573.5" r="8.8"/><circle cx="1104.1" cy="585" r="8.8"/><circle cx="1051.5" cy="598.1" r="8.8"/><circle cx="1069" cy="594.8" r="8.8"/><circle cx="1084.4" cy="598.1" r="8.8"/><circle cx="1099.7" cy="596.4" r="8.8"/><circle cx="1064.6" cy="609.5" r="8.8"/><circle cx="1082.2" cy="607.9" r="8.8"/><circle cx="1095.3" cy="609.5" r="8.8"/><circle cx="1064.6" cy="622.6" r="8.8"/><circle cx="1080" cy="621" r="8.8"/><circle cx="1097.5" cy="619.3" r="8.8"/><circle cx="1110.6" cy="624.3" r="8.8"/><circle cx="1069" cy="637.4" r="8.8"/><circle cx="1084.4" cy="637.4" r="8.8"/><circle cx="1099.7" cy="634.1" r="8.8"/><circle cx="1075.6" cy="642.3" r="8.8"/></g></g>
<g id="k30-opcs-b" class="n p"><circle cx="1542" cy="400" r="8.8"/><circle cx="1539" cy="424" r="8.8"/></g>
<g id="k30-opcs-c" class="n p"><circle cx="1477" cy="540" r="8.8"/><circle cx="1492" cy="539" r="8.8"/><circle cx="1469" cy="549" r="8.8"/><circle cx="1501" cy="548" r="8.8"/><circle cx="1485" cy="553" r="8.8"/><circle cx="1466" cy="562" r="8.8"/><circle cx="1503" cy="562" r="8.8"/><circle cx="1472" cy="573" r="8.8"/><circle cx="1497" cy="571" r="8.8"/><circle cx="1487" cy="575" r="8.8"/></g>
<g id="k30-small" class="n"><circle class="p" cx="1381" cy="664" r="8.8"/><circle class="b" cx="1365" cy="670" r="8.8"/><circle class="b" cx="1390" cy="680" r="8.8"/><circle class="p" cx="1361" cy="688" r="8.8"/><circle class="b" cx="1376" cy="692" r="8.8"/></g>
</g>
<g id="legend">
<g class="lc"><circle cx="88" cy="1520" r="20" fill="#22ee22" stroke="#2a8a2a"/><circle cx="88" cy="1562" r="20" fill="#f01010" stroke="#a01010"/><circle cx="88" cy="1604" r="20" fill="#0000e6" stroke="#3030a0"/><circle cx="88" cy="1646" r="20" fill="#000" stroke="#222"/><circle cx="88" cy="1688" r="20" fill="#ffc0cb" stroke="#6a4a4a"/><circle cx="88" cy="1730" r="20" fill="#a52a2a" stroke="#702020"/></g>
<text class="lg" x="120" y="1531">BCL</text><text class="lg" x="120" y="1573">NCL</text><text class="lg" x="120" y="1615">OPCE</text><text class="lg" x="120" y="1657">OPCP</text><text class="lg" x="120" y="1699">OPCS</text><text class="lg" x="120" y="1741">OPCW</text>
</g>
</svg>
